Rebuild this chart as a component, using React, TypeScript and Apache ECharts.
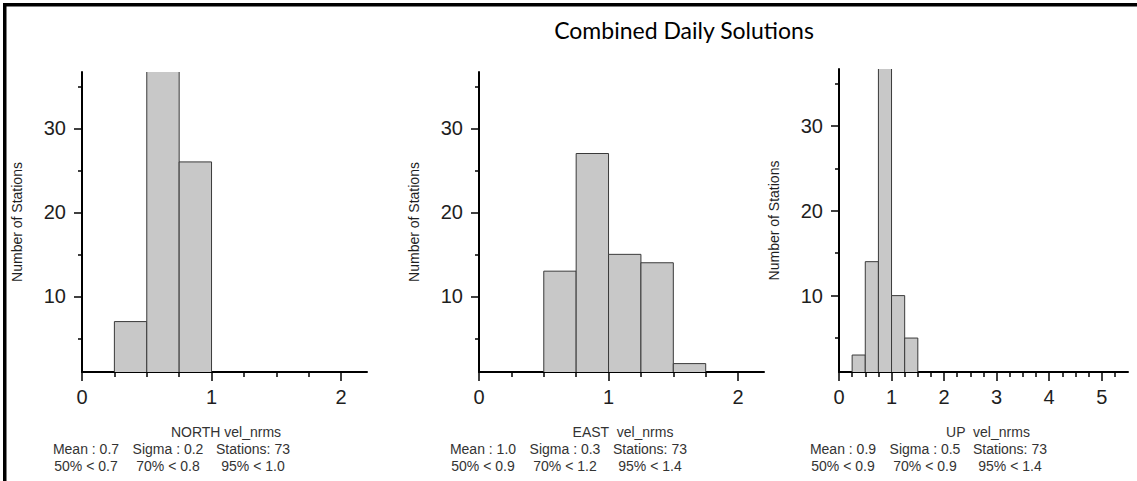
import React, { useEffect, useRef } from "react";
import * as echarts from "echarts";

// ---------- data ----------
const TITLE = "Combined Daily Solutions";
const Y_NAME = "Number of Stations";
const BIN_WIDTH = 0.25;

const NORTH_BIN_STARTS = [0.25, 0.5, 0.75];
const NORTH_COUNTS = [7, 40, 26];
const EAST_BIN_STARTS = [0.5, 0.75, 1.0, 1.25, 1.5];
const EAST_COUNTS = [13, 27, 15, 14, 2];
const UP_BIN_STARTS = [0.25, 0.5, 0.75, 1.0, 1.25];
const UP_COUNTS = [3, 14, 41, 10, 5];

const Y_MIN = 1;
const Y_MAX = 36.7;
const Y_LABELS = [10, 20, 30];
const Y_MINOR_TICKS = [5, 15, 25, 35];

const NE_X_MAX = 2.2;
const NE_X_LABELS = [0, 1, 2];
const NE_X_MINOR_TICKS = [0.25, 0.5, 0.75, 1.25, 1.5, 1.75];
const UP_X_MAX = 5.5;
const UP_X_LABELS = [0, 1, 2, 3, 4, 5];
const UP_X_MINOR_TICKS = [
  0.25, 0.5, 0.75, 1.25, 1.5, 1.75, 2.25, 2.5, 2.75, 3.25, 3.5, 3.75, 4.25, 4.5,
  4.75, 5.25,
];

const PANEL_NAMES = ["NORTH vel_nrms", "EAST  vel_nrms", "UP  vel_nrms"];
const STATS_ROW1 = [
  ["Mean : 0.7", "Sigma : 0.2", "Stations: 73"],
  ["Mean : 1.0", "Sigma : 0.3", "Stations: 73"],
  ["Mean : 0.9", "Sigma : 0.5", "Stations: 73"],
];
const STATS_ROW2 = [
  ["50% < 0.7", "70% < 0.8", "95% < 1.0"],
  ["50% < 0.9", "70% < 1.2", "95% < 1.4"],
  ["50% < 0.9", "70% < 0.9", "95% < 1.4"],
];

// ---------- layout ----------
const W = 1137;
const H = 481;
const GRIDS = [
  { left: 82, top: 72, width: 285, height: 300 },
  { left: 479, top: 72, width: 285, height: 300 },
  { left: 839, top: 69, width: 289, height: 303 },
];
const COL_OFFSETS = [4, 86, 171];
const NAME_OFFSETS = [144, 144, 149];
const FONT = "'Liberation Sans', Arial, sans-serif";
const TEXT_COLOR = "#1e1e1e";

const toBins = (starts: number[], counts: number[]) =>
  starts.map((s, i) => [s, s + BIN_WIDTH, counts[i]]);

const renderHist = (params: any, api: any) => {
  const x0 = api.value(0);
  const x1 = api.value(1);
  const c = api.value(2);
  const pTop = api.coord([x0, c]);
  const pBot = api.coord([x1, Y_MIN]);
  const cs = params.coordSys;
  const clipped = pTop[1] < cs.y;
  const top = clipped ? cs.y : pTop[1];
  const left = pTop[0];
  const right = pBot[0];
  const bottom = pBot[1];
  const children: any[] = [
    {
      type: "rect",
      shape: { x: left, y: top, width: right - left, height: bottom - top },
      style: { fill: "#c8c8c8" },
    },
  ];
  if (clipped) {
    children.push({
      type: "line",
      shape: { x1: left, y1: top, x2: left, y2: bottom },
      style: { stroke: "#3a3a3a", lineWidth: 1 },
    });
    children.push({
      type: "line",
      shape: { x1: right, y1: top, x2: right, y2: bottom },
      style: { stroke: "#3a3a3a", lineWidth: 1 },
    });
  } else {
    children.push({
      type: "polyline",
      shape: {
        points: [
          [left, bottom],
          [left, top],
          [right, top],
          [right, bottom],
        ],
      },
      style: { stroke: "#3a3a3a", lineWidth: 1, fill: null },
    });
  }
  return { type: "group", children };
};

export default function App() {
  const ref = useRef<HTMLDivElement>(null);

  useEffect(() => {
    if (!ref.current) return;
    const chart = echarts.init(ref.current, null, { renderer: "svg" });

    const panels = [
      { bins: toBins(NORTH_BIN_STARTS, NORTH_COUNTS), xMax: NE_X_MAX, xLabels: NE_X_LABELS, xMinor: NE_X_MINOR_TICKS },
      { bins: toBins(EAST_BIN_STARTS, EAST_COUNTS), xMax: NE_X_MAX, xLabels: NE_X_LABELS, xMinor: NE_X_MINOR_TICKS },
      { bins: toBins(UP_BIN_STARTS, UP_COUNTS), xMax: UP_X_MAX, xLabels: UP_X_LABELS, xMinor: UP_X_MINOR_TICKS },
    ];

    const xAxis: any[] = [];
    const yAxis: any[] = [];
    const series: any[] = [];
    const graphic: any[] = [];

    panels.forEach((p, i) => {
      xAxis.push({
        type: "value",
        gridIndex: i,
        min: 0,
        max: p.xMax,
        position: "bottom",
        axisLine: { show: true, lineStyle: { color: "#000", width: 2 } },
        axisTick: { show: true, length: 9, customValues: p.xLabels, lineStyle: { color: "#000", width: 1.5 } },
        axisLabel: {
          show: true,
          customValues: p.xLabels,
          fontSize: 20,
          fontFamily: FONT,
          color: TEXT_COLOR,
          margin: 15,
          showMaxLabel: true,
          showMinLabel: true,
        },
        splitLine: { show: false },
      });
      xAxis.push({
        type: "value",
        gridIndex: i,
        min: 0,
        max: p.xMax,
        position: "bottom",
        axisLine: { show: false },
        axisTick: { show: true, length: 5, customValues: p.xMinor, lineStyle: { color: "#000", width: 1.5 } },
        axisLabel: { show: false },
        splitLine: { show: false },
      });
      yAxis.push({
        type: "value",
        gridIndex: i,
        min: Y_MIN,
        max: Y_MAX,
        position: "left",
        name: Y_NAME,
        nameLocation: "middle",
        nameRotate: 90,
        nameGap: 58,
        nameTextStyle: { fontSize: 14, fontFamily: FONT, color: TEXT_COLOR },
        axisLine: { show: true, lineStyle: { color: "#000", width: 2 } },
        axisTick: { show: true, length: 8, customValues: Y_LABELS, lineStyle: { color: "#000", width: 1.5 } },
        axisLabel: {
          show: true,
          customValues: Y_LABELS,
          fontSize: 20,
          fontFamily: FONT,
          color: TEXT_COLOR,
          margin: 16,
        },
        splitLine: { show: false },
      });
      yAxis.push({
        type: "value",
        gridIndex: i,
        min: Y_MIN,
        max: Y_MAX,
        position: "left",
        axisLine: { show: false },
        axisTick: { show: true, length: 4, customValues: Y_MINOR_TICKS, lineStyle: { color: "#000", width: 1.5 } },
        axisLabel: { show: false },
        splitLine: { show: false },
      });

      series.push({
        type: "custom",
        xAxisIndex: i * 2,
        yAxisIndex: i * 2,
        data: p.bins,
        renderItem: renderHist,
        z: 1,
      });

      const g = GRIDS[i];
      graphic.push({
        type: "text",
        x: g.left + NAME_OFFSETS[i],
        y: 432,
        style: {
          text: PANEL_NAMES[i],
          fill: "#333",
          font: `14px ${FONT}`,
          textAlign: "center",
          textVerticalAlign: "middle",
        },
      });
      STATS_ROW1[i].forEach((t, k) => {
        graphic.push({
          type: "text",
          x: g.left + COL_OFFSETS[k],
          y: 449,
          style: { text: t, fill: "#333", font: `14px ${FONT}`, textAlign: "center", textVerticalAlign: "middle" },
        });
      });
      STATS_ROW2[i].forEach((t, k) => {
        graphic.push({
          type: "text",
          x: g.left + COL_OFFSETS[k],
          y: 466,
          style: { text: t, fill: "#333", font: `14px ${FONT}`, textAlign: "center", textVerticalAlign: "middle" },
        });
      });
    });

    graphic.push({ type: "rect", shape: { x: 3, y: 3, width: W - 3, height: 3.5 }, style: { fill: "#000" } });
    graphic.push({ type: "rect", shape: { x: 3, y: 3, width: 3.5, height: H - 3 }, style: { fill: "#000" } });

    chart.setOption({
      animation: false,
      backgroundColor: "#fff",
      title: {
        text: TITLE,
        left: 679,
        top: 13,
        textAlign: "center",
        textStyle: { fontSize: 23, fontWeight: "normal", fontFamily: "Lato, 'Open Sans', sans-serif", color: "#000" },
      },
      grid: GRIDS.map((g) => ({ ...g, containLabel: false })),
      xAxis,
      yAxis,
      series,
      graphic,
    });

    return () => chart.dispose();
  }, []);

  return (
    <div
      ref={ref}
      style={{ position: "absolute", left: 0, top: 0, width: W, height: H, background: "#fff" }}
    />
  );
}
